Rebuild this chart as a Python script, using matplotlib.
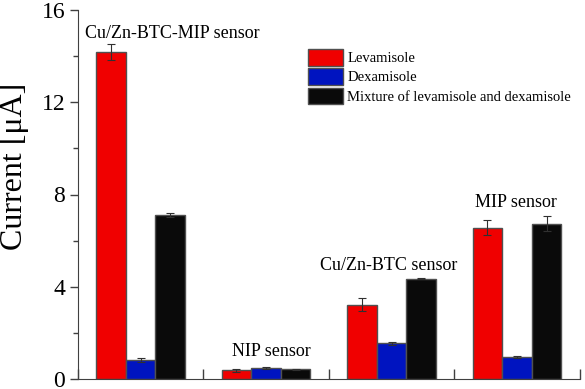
import numpy as np
import matplotlib
matplotlib.use('Agg')
from matplotlib import pyplot as plt
from matplotlib.ticker import MultipleLocator

# data
sensores = ['Cu/Zn-BTC-MIP sensor', 'NIP sensor', 'Cu/Zn-BTC sensor', 'MIP sensor']
levamisole = [14.18, 0.37, 3.22, 6.56]
levamisole_err = [0.35, 0.05, 0.29, 0.32]
dexamisole = [0.81, 0.46, 1.54, 0.94]
dexamisole_err = [0.08, 0.04, 0.08, 0.05]
mistura = [7.11, 0.41, 4.35, 6.73]
mistura_err = [0.08, 0.03, 0.03, 0.32]
legendas = ['Levamisole', 'Dexamisole', 'Mixture of levamisole and dexamisole']

plt.rcParams['font.family'] = ['Liberation Serif', 'DejaVu Serif']

fig = plt.figure(figsize=(5.85, 3.89), dpi=100)
ax = fig.add_axes([0.133, 0.026, 0.858, 0.948])

x = np.arange(len(sensores)) + 0.5
w = 0.236
cores = ['#f00000', '#0014c0', '#0a0a0a']
series = [(levamisole, levamisole_err), (dexamisole, dexamisole_err), (mistura, mistura_err)]
for i, (vals, errs) in enumerate(series):
    ax.bar(x + (i - 1) * w, vals, w, yerr=errs, color=cores[i], edgecolor='#505050',
           linewidth=1.0, capsize=3, error_kw=dict(ecolor='#303030', elinewidth=0.8, capthick=0.8),
           label=legendas[i], zorder=2)

# rotulos dos grupos
pos_txt = [(0.75, 14.97), (1.54, 1.19), (2.48, 4.91), (3.49, 7.65)]
for nome, (tx, ty) in zip(sensores, pos_txt):
    ax.text(tx, ty, nome, ha='center', va='center', fontsize=13)

ax.set_xlim(0, 4)
ax.set_ylim(0, 16)
ax.set_xticks([0, 1, 2, 3, 4])
ax.set_xticklabels([])
ax.xaxis.set_minor_locator(MultipleLocator(0.25))
ax.set_yticks([0, 4, 8, 12, 16])
ax.yaxis.set_minor_locator(MultipleLocator(2))
ax.tick_params(axis='x', which='major', direction='in', length=7, width=1, color='#404040')
ax.tick_params(axis='x', which='minor', direction='in', length=4, width=1, color='#404040')
ax.tick_params(axis='y', which='major', direction='out', length=6, width=1, labelsize=17,
               color='#404040', pad=3)
ax.tick_params(axis='y', which='minor', direction='out', length=3.5, width=1, color='#404040')
for lado in ['top', 'right']:
    ax.spines[lado].set_visible(False)
for lado in ['left', 'bottom']:
    ax.spines[lado].set_color('#404040')
ax.set_ylabel('Current [\u03bcA]', fontsize=23, va='center')
ax.yaxis.set_label_coords(-0.127, 0.575)

ax.legend(loc='upper left', bbox_to_anchor=(0.447, 0.91), frameon=False, fontsize=10.5,
          handlelength=2.4, handleheight=1.35, handletextpad=0.3, labelspacing=0.2,
          borderaxespad=0)

fig.savefig('out.png', dpi=100)
